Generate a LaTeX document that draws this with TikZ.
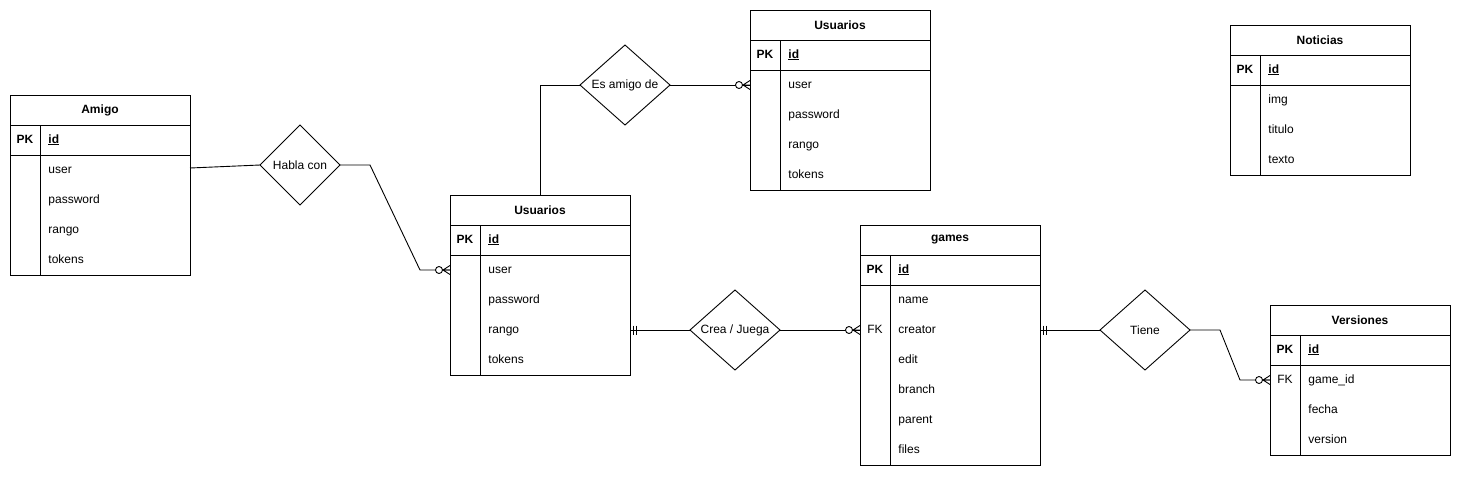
\documentclass[tikz,border=0pt]{standalone}
\usepackage{fontspec}
\setmainfont{Liberation Sans}
\usetikzlibrary{positioning,shapes.geometric,calc}

\newcommand\erfont{\fontsize{12}{14}\selectfont}

\tikzset{
  head/.style={draw, minimum width=180, minimum height=30, inner sep=0, outer sep=0, font=\erfont\bfseries},
  pkrow/.style={draw, minimum width=180, minimum height=30, inner sep=0, outer sep=0},
  fields/.style={draw, minimum width=180, inner sep=0, outer sep=0},
  rel/.style={draw, diamond, minimum width=80, minimum height=80, inner sep=0, outer sep=0, font=\erfont},
  txt/.style={anchor=west, inner sep=0, text height=9pt, text depth=3pt, font=\erfont},
  key/.style={inner sep=0, text height=9pt, text depth=3pt, font=\erfont},
  zeromany/.pic={
    \draw[fill=white] (-11,0) circle[radius=3.5pt];
    \draw (-7,0) -- (0,-4.5) (-7,0) -- (0,4.5) (-7.5,0) -- (0,0);
  },
  mandone/.pic={
    \draw (3.5,-4.5) -- (3.5,4.5) (6.5,-4.5) -- (6.5,4.5);
  }
}

\begin{document}
\begin{tikzpicture}[x=1pt, y=-1pt, line width=0.9pt]
  \useasboundingbox (0,0) rectangle (1461,477);

  % Amigo
  \node[head] (amigo) at (100,110) {Amigo};
  \node[pkrow, below=0pt of amigo] (amigopk) {};
  \node[fields, minimum height=120, below=0pt of amigopk] (amigof) {};
  \draw ($(amigopk.north west)+(30,0)$) -- ($(amigof.south west)+(30,0)$);
  \node[key] at ($(amigopk.west)+(15,0)$) {\bfseries PK};
  \node[txt] at ($(amigopk.west)+(38,0)$) {\bfseries\underline{id}};
  \foreach \f [count=\i] in {user,password,rango,tokens}
    \node[txt] at ($(amigof.north west)+(38,30*\i-15)$) {\f};

  % Usuarios (centro)
  \node[head] (usu) at (540,210) {Usuarios};
  \node[pkrow, below=0pt of usu] (usupk) {};
  \node[fields, minimum height=120, below=0pt of usupk] (usuf) {};
  \draw ($(usupk.north west)+(30,0)$) -- ($(usuf.south west)+(30,0)$);
  \node[key] at ($(usupk.west)+(15,0)$) {\bfseries PK};
  \node[txt] at ($(usupk.west)+(38,0)$) {\bfseries\underline{id}};
  \foreach \f [count=\i] in {user,password,rango,tokens}
    \node[txt] at ($(usuf.north west)+(38,30*\i-15)$) {\f};

  % Usuarios (arriba)
  \node[head] (amigos) at (840,25) {Usuarios};
  \node[pkrow, below=0pt of amigos] (amigospk) {};
  \node[fields, minimum height=120, below=0pt of amigospk] (amigosf) {};
  \draw ($(amigospk.north west)+(30,0)$) -- ($(amigosf.south west)+(30,0)$);
  \node[key] at ($(amigospk.west)+(15,0)$) {\bfseries PK};
  \node[txt] at ($(amigospk.west)+(38,0)$) {\bfseries\underline{id}};
  \foreach \f [count=\i] in {user,password,rango,tokens}
    \node[txt] at ($(amigosf.north west)+(38,30*\i-15)$) {\f};

  % games
  \node[head] (games) at (950,240) {games};
  \node[pkrow, below=0pt of games] (gamespk) {};
  \node[fields, minimum height=180, below=0pt of gamespk] (gamesf) {};
  \draw ($(gamespk.north west)+(30,0)$) -- ($(gamesf.south west)+(30,0)$);
  \node[key] at ($(gamespk.west)+(15,0)$) {\bfseries PK};
  \node[txt] at ($(gamespk.west)+(38,0)$) {\bfseries\underline{id}};
  \node[key] at ($(gamesf.north west)+(15,45)$) {FK};
  \foreach \f [count=\i] in {name,creator,edit,branch,parent,files}
    \node[txt] at ($(gamesf.north west)+(38,30*\i-15)$) {\f};

  % Noticias
  \node[head] (noticias) at (1320,40) {Noticias};
  \node[pkrow, below=0pt of noticias] (noticiaspk) {};
  \node[fields, minimum height=90, below=0pt of noticiaspk] (noticiasf) {};
  \draw ($(noticiaspk.north west)+(30,0)$) -- ($(noticiasf.south west)+(30,0)$);
  \node[key] at ($(noticiaspk.west)+(15,0)$) {\bfseries PK};
  \node[txt] at ($(noticiaspk.west)+(38,0)$) {\bfseries\underline{id}};
  \foreach \f [count=\i] in {img,titulo,texto}
    \node[txt] at ($(noticiasf.north west)+(38,30*\i-15)$) {\f};

  % Versiones
  \node[head] (versiones) at (1360,320) {Versiones};
  \node[pkrow, below=0pt of versiones] (versionespk) {};
  \node[fields, minimum height=90, below=0pt of versionespk] (versionesf) {};
  \draw ($(versionespk.north west)+(30,0)$) -- ($(versionesf.south west)+(30,0)$);
  \node[key] at ($(versionespk.west)+(15,0)$) {\bfseries PK};
  \node[txt] at ($(versionespk.west)+(38,0)$) {\bfseries\underline{id}};
  \node[key] at ($(versionesf.north west)+(15,15)$) {FK};
  \foreach \f [count=\i] in {game\_id,fecha,version}
    \node[txt] at ($(versionesf.north west)+(38,30*\i-15)$) {\f};

  % Relaciones
  \node[rel] (habla) at (300,165) {Habla con};
  \node[rel, minimum width=90] (esamigo) at (625,85) {Es amigo de};
  \node[rel, minimum width=90] (crea) at (735,330) {Crea / Juega};
  \node[rel, minimum width=90] (tiene) at (1145,330) {Tiene};

  \coordinate (amigoE) at ($(amigof.north east)+(0,13)$);
  \coordinate (usuW) at ($(usuf.north west)+(0,15)$);
  \coordinate (amigosW) at ($(amigosf.north west)+(0,15)$);
  \coordinate (usuE) at ($(usuf.north east)+(0,75)$);
  \coordinate (gamesW) at ($(gamesf.north west)+(0,45)$);
  \coordinate (gamesE) at ($(gamesf.north east)+(0,45)$);
  \coordinate (versionesW) at ($(versionesf.north west)+(0,15)$);

  \draw (amigoE) -- (habla.west);
  \draw (habla.east) -- ++(30,0) -- ($(usuW)+(-30,0)$) -- (usuW);
  \draw (usu.north) |- (esamigo.west);
  \draw (esamigo.east) -- (amigosW);
  \draw (usuE) -- (crea.west);
  \draw (crea.east) -- (gamesW);
  \draw (gamesE) -- (tiene.west);
  \draw (tiene.east) -- ++(30,0) -- ($(versionesW)+(-30,0)$) -- (versionesW);

  % Cardinalidades
  \pic at (usuW) {zeromany};
  \pic at (amigosW) {zeromany};
  \pic at (gamesW) {zeromany};
  \pic at (versionesW) {zeromany};
  \pic at (usuE) {mandone};
  \pic at (gamesE) {mandone};
\end{tikzpicture}
\end{document}
